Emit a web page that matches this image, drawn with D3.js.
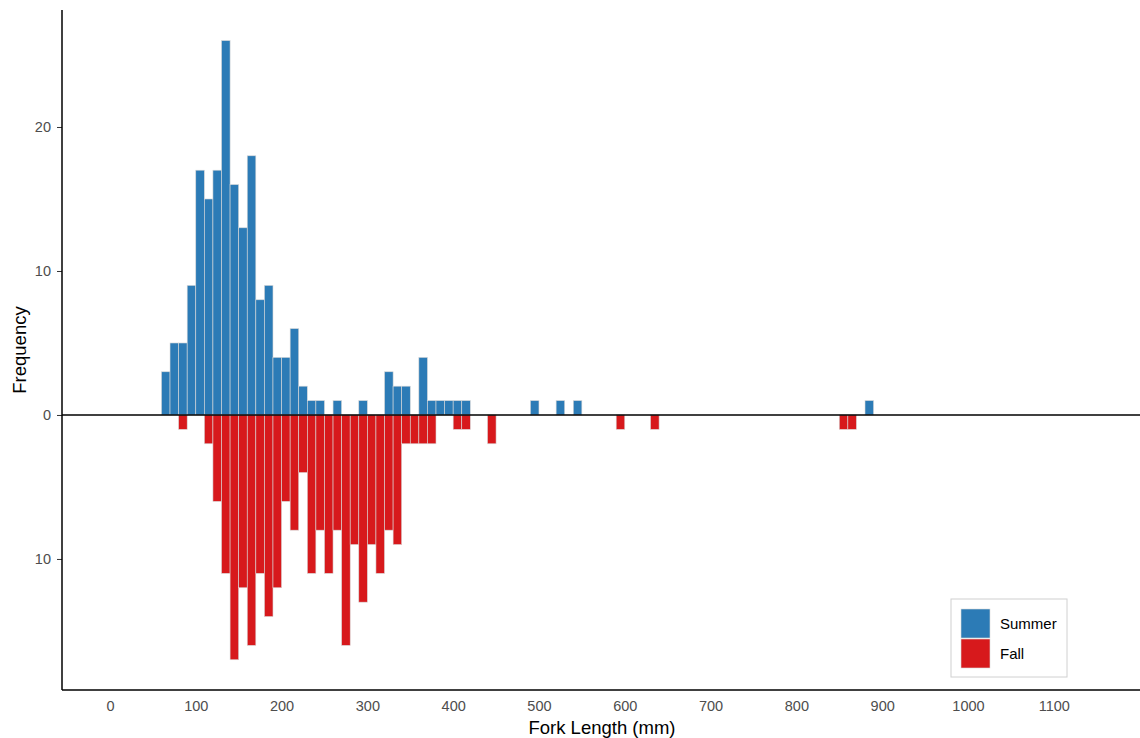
<!DOCTYPE html>
<html>
<head>
<meta charset="utf-8">
<script src="https://cdn.jsdelivr.net/npm/d3@7"></script>
<style>
  html, body { margin: 0; padding: 0; background: #fff; }
  svg { display: block; font-family: "Liberation Sans", Arial, sans-serif; }
</style>
</head>
<body>
<svg id="chart" width="1140" height="738"></svg>
<script>
// Histogram bins (mm, left edge, width 10)
const binWidth = 10;
const summerBins   = [60,70,80,90,100,110,120,130,140,150,160,170,180,190,200,210,220,230,240,260,290,320,330,340,360,370,380,390,400,410,490,520,540,880];
const summerCounts = [3, 5, 5, 9, 17, 15, 17, 26, 16, 13, 18, 8,  9,  4,  4,  6,  2,  1,  1,  1,  1,  3,  2,  2,  4,  1,  1,  1,  1,  1,  1,  1,  1,  1];
const fallBins     = [80,110,120,130,140,150,160,170,180,190,200,210,220,230,240,250,260,270,280,290,300,310,320,330,340,350,360,370,400,410,440,590,630,850,860];
const fallCounts   = [1, 2,  6,  11, 17, 12, 16, 11, 14, 12, 6,  8,  4,  11, 8,  11, 8,  16, 9,  13, 9,  11, 8,  9,  2,  2,  2,  2,  1,  1,  2,  1,  1,  1,  1];
const xTicks = [0,100,200,300,400,500,600,700,800,900,1000,1100];
const yTicks = [-10, 0, 10, 20];
const seriesNames = ["Summer", "Fall"];
const seriesColors = ["#2C7BB6", "#D7191C"];

const svg = d3.select("#chart");
const pL = 62, pR = 1140, pT = 10, pB = 690;

const x = d3.scaleLinear().domain([-55.9, 1200.5]).range([pL, pR]);
const y = d3.scaleLinear().domain([-19.1, 28.125]).range([pB, pT]);

const summer = summerBins.map((b, i) => ({b, c: summerCounts[i]}));
const fall = fallBins.map((b, i) => ({b, c: -fallCounts[i]}));

// bars
svg.append("g").selectAll("rect").data(summer).join("rect")
  .attr("x", d => x(d.b))
  .attr("width", d => x(d.b + binWidth) - x(d.b))
  .attr("y", d => y(d.c))
  .attr("height", d => y(0) - y(d.c))
  .attr("fill", seriesColors[0])
  .attr("stroke", "#d9d9d9").attr("stroke-width", 0.6);

svg.append("g").selectAll("rect").data(fall).join("rect")
  .attr("x", d => x(d.b))
  .attr("width", d => x(d.b + binWidth) - x(d.b))
  .attr("y", y(0))
  .attr("height", d => y(d.c) - y(0))
  .attr("fill", seriesColors[1])
  .attr("stroke", "#d9d9d9").attr("stroke-width", 0.6);

// zero line
svg.append("line")
  .attr("x1", pL).attr("x2", pR)
  .attr("y1", y(0)).attr("y2", y(0))
  .attr("stroke", "#000").attr("stroke-width", 1.6);

// y axis
const yAxis = d3.axisLeft(y).tickValues(yTicks).tickFormat(d => Math.abs(d)).tickSize(5).tickPadding(6);
const gy = svg.append("g").attr("transform", `translate(${pL},0)`).call(yAxis);
gy.select(".domain").remove();
gy.selectAll(".tick line").attr("stroke", "#333").attr("stroke-width", 1);
gy.selectAll(".tick text").attr("fill", "#4d4d4d").style("font-size", "14.5px");
svg.append("line").attr("x1", pL).attr("x2", pL).attr("y1", pT).attr("y2", pB)
  .attr("stroke", "#000").attr("stroke-width", 1.5);

// x axis
const xAxis = d3.axisBottom(x).tickValues(xTicks).tickFormat(d3.format("d")).tickSize(0).tickPadding(10.5);
const gx = svg.append("g").attr("transform", `translate(0,${pB})`).call(xAxis);
gx.select(".domain").remove();
gx.selectAll(".tick text").attr("fill", "#4d4d4d").style("font-size", "14.5px");
svg.append("line").attr("x1", pL).attr("x2", pR).attr("y1", pB).attr("y2", pB)
  .attr("stroke", "#000").attr("stroke-width", 1.5);

// titles
svg.append("text").attr("x", 602).attr("y", 734)
  .attr("text-anchor", "middle").style("font-size", "18.5px").attr("fill", "#000")
  .text("Fork Length (mm)");
svg.append("text").attr("transform", `translate(26,350) rotate(-90)`)
  .attr("text-anchor", "middle").style("font-size", "18.5px").attr("fill", "#000")
  .text("Frequency");

// legend
const lg = svg.append("g").attr("transform", "translate(951,599)");
lg.append("rect").attr("width", 116).attr("height", 78)
  .attr("fill", "#fff").attr("stroke", "#d0d0d0").attr("stroke-width", 1);
seriesNames.forEach((n, i) => {
  lg.append("rect").attr("x", 10).attr("y", 10 + i * 30).attr("width", 29).attr("height", 29)
    .attr("fill", seriesColors[i]).attr("stroke", "#d9d9d9").attr("stroke-width", 0.6);
  lg.append("text").attr("x", 49).attr("y", 25 + i * 30).attr("dy", "0.35em")
    .style("font-size", "15px").attr("fill", "#000").text(n);
});
</script>
</body>
</html>
